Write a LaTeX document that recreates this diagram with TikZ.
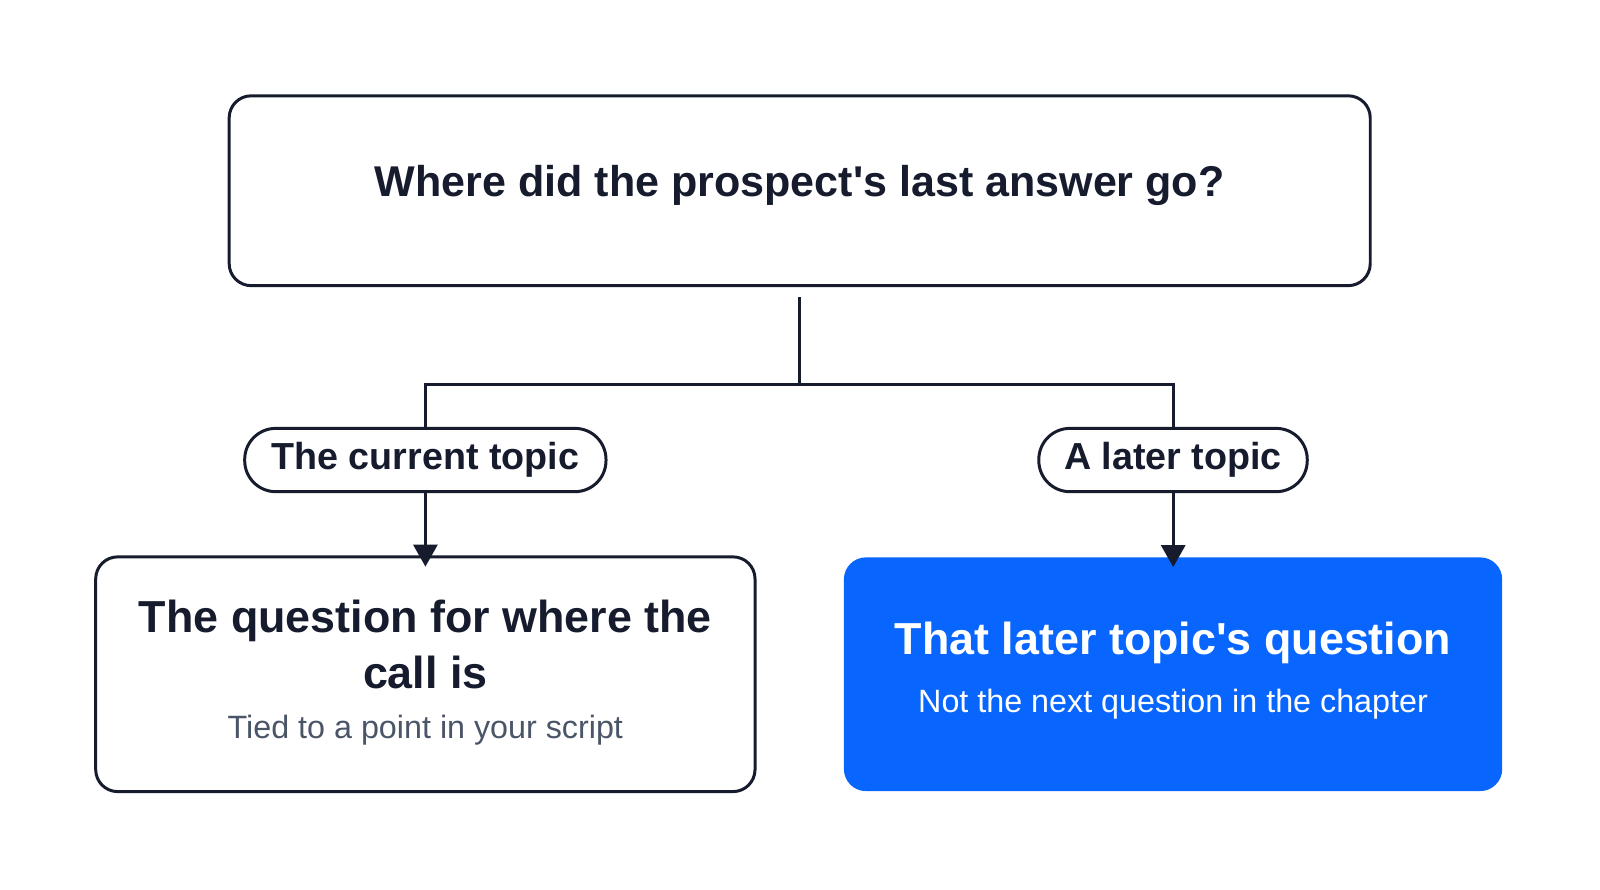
\documentclass[tikz,border=0pt]{standalone}
\usepackage{fontspec}
\setmainfont{Liberation Sans}
\usetikzlibrary{positioning,arrows.meta}
\definecolor{ink}{HTML}{161C2D}
\definecolor{subgrey}{HTML}{4A5568}
\definecolor{fbblue}{HTML}{0866FF}
\begin{document}
\begin{tikzpicture}[
    x=0.01cm, y=-0.01cm, scale=1.02, transform shape,
    box/.style={draw=ink, line width=0.85pt, rounded corners=0.22cm, inner sep=0pt},
    pill/.style={draw=ink, line width=0.85pt, rounded corners=0.31cm, minimum height=0.62cm, inner sep=0pt, font=\fontsize{10.5}{12}\selectfont\bfseries, text=ink},
    link/.style={draw=ink, line width=0.85pt},
    ]
    \useasboundingbox (0,0) rectangle (1568.6,871.6);
    \node [box, minimum width=11.18cm, minimum height=1.86cm] (q) at (784,187) {};
    \node [text=ink, font=\fontsize{12}{14}\selectfont\bfseries] (qt) at (784,182) {Where did the prospect\textquotesingle s last answer go?};
    \node [pill, minimum width=3.54cm] (cur) at (417,451) {The current topic};
    \node [pill, minimum width=2.63cm] (later) at (1150,451) {A later topic};
    \node [box, minimum width=6.46cm, minimum height=2.30cm] (here) at (417,661) {};
    \node [text=ink, font=\fontsize{12.5}{15.5}\selectfont\bfseries, align=center] (heret) at (417,632) {The question for where the\\call is};
    \node [text=subgrey, font=\fontsize{9}{11}\selectfont] (heres) at (417,716) {Tied to a point in your script};
    \node [box, draw=none, fill=fbblue, minimum width=6.45cm, minimum height=2.29cm] (next) at (1150,661) {};
    \node [text=white, font=\fontsize{12.5}{15}\selectfont\bfseries] (nextt) at (1150,630) {That later topic\textquotesingle s question};
    \node [text=white, font=\fontsize{9}{11}\selectfont] (nexts) at (1150,690) {Not the next question in the chapter};
    \coordinate (split) at (784,377);

    \draw [link] ([yshift=-0.1cm]q.south) -- (split);
    \draw [link] (split) -| (cur.north);
    \draw [link] (split) -| (later.north);
    \draw [link, -{Triangle[length=0.22cm, width=0.24cm]}] (cur.south) -- ([yshift=-0.11cm]here.north);
    \draw [link, -{Triangle[length=0.22cm, width=0.24cm]}] (later.south) -- ([yshift=-0.11cm]next.north);
\end{tikzpicture}
\end{document}
